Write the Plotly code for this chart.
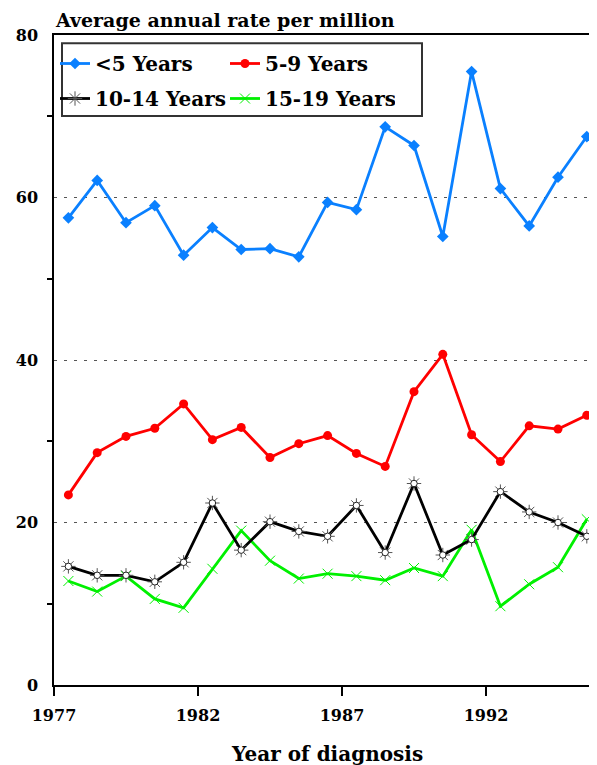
import plotly.graph_objects as go

years = list(range(1977, 1996))
under5 = [57.5, 62.1, 56.9, 59.0, 52.9, 56.3, 53.6, 53.7, 52.7, 59.4,
          58.5, 68.7, 66.4, 55.2, 75.5, 61.1, 56.5, 62.5, 67.5]
age5_9 = [23.4, 28.6, 30.6, 31.6, 34.6, 30.2, 31.7, 28.0, 29.7, 30.7,
          28.5, 26.9, 36.1, 40.7, 30.8, 27.5, 31.9, 31.5, 33.2]
age10_14 = [14.6, 13.5, 13.5, 12.7, 15.1, 22.4, 16.6, 20.1, 18.9, 18.3,
            22.1, 16.3, 24.8, 16.0, 17.9, 23.8, 21.3, 20.0, 18.3]
age15_19 = [12.8, 11.5, 13.4, 10.6, 9.5, 14.3, 19.0, 15.3, 13.1, 13.7,
            13.4, 12.9, 14.4, 13.4, 19.1, 9.7, 12.4, 14.5, 20.4]

x_tick_pos = [1976.5, 1981.5, 1986.5, 1991.5]
x_tick_text = ["1977", "1982", "1987", "1992"]
y_major = [0, 20, 40, 60, 80]
y_minor = [10, 30, 50, 70]

FONT = "DejaVu Serif, Liberation Serif, serif"

# the page body has an 8px margin, so the figure is laid out 8px smaller
W, H = 589, 757
ML, MT, MB = 46, 27, 80
PW, PH = W - ML, H - MT - MB  # 543 x 650


def px_x(page_x):
    return (page_x - 8 - ML) / PW


def px_y(page_y):
    return (MT + PH - (page_y - 8)) / PH


BLUE = "#0A80FF"
RED = "#FF0000"
GREEN = "#00F000"

fig = go.Figure()
fig.add_trace(go.Scatter(
    x=years, y=under5, name="<5 Years", mode="lines+markers",
    line=dict(color=BLUE, width=2.8),
    marker=dict(symbol="diamond", size=9, color=BLUE),
    legend="legend", legendrank=1))
fig.add_trace(go.Scatter(
    x=years, y=age5_9, name="5-9 Years", mode="lines+markers",
    line=dict(color=RED, width=2.8),
    marker=dict(symbol="circle", size=9, color=RED),
    legend="legend", legendrank=2))
fig.add_trace(go.Scatter(
    x=years, y=age15_19, name="15-19 Years", mode="lines+markers",
    line=dict(color=GREEN, width=2.8),
    marker=dict(symbol="x-thin-open", size=10, color=GREEN,
                line=dict(color=GREEN, width=1)),
    legend="legend2", legendrank=4))
fig.add_trace(go.Scatter(
    x=years, y=age10_14, name="10-14 Years", mode="lines+markers",
    line=dict(color="#000000", width=2.8),
    marker=dict(symbol="asterisk-open", size=12, color="#555555",
                line=dict(color="#555555", width=1)),
    legend="legend2", legendrank=3))
fig.add_trace(go.Scatter(
    x=years, y=age10_14, name="10-14 Years", mode="markers", showlegend=False,
    marker=dict(symbol="circle", size=6.5, color="white",
                line=dict(color="#222222", width=1)),
    hoverinfo="skip"))

legend_common = dict(
    orientation="h", xanchor="left", yanchor="middle",
    bgcolor="rgba(0,0,0,0)", borderwidth=0,
    font=dict(family=FONT, size=20, color="black", weight="bold"),
    entrywidth=125, entrywidthmode="pixels", itemwidth=30,
    traceorder="normal",
)

fig.update_layout(
    width=W, height=H,
    margin=dict(l=ML, r=0, t=MT, b=MB),
    paper_bgcolor="white", plot_bgcolor="white",
    showlegend=True,
    legend=dict(x=px_x(55), y=px_y(63.5), **legend_common),
    legend2=dict(x=px_x(55), y=px_y(98.5), **legend_common),
    xaxis=dict(
        range=[1976.5, 1976.5 + PW / 28.8],
        tickmode="array", tickvals=x_tick_pos, ticktext=x_tick_text,
        ticks="outside", ticklen=9, tickwidth=1.5, tickcolor="black",
        showline=True, linewidth=1.5, linecolor="black", mirror=True,
        showgrid=False, zeroline=False,
        tickfont=dict(family=FONT, size=16, color="black", weight="bold"),
        ticklabelstandoff=6,
    ),
    yaxis=dict(
        range=[0, 80],
        tickmode="array", tickvals=y_major, ticktext=[str(v) for v in y_major],
        ticks="", showline=True, linewidth=1.5, linecolor="black",
        showgrid=True, gridcolor="#555555", gridwidth=1, griddash="3px,7px",
        zeroline=False,
        tickfont=dict(family=FONT, size=16, color="black", weight="bold"),
        ticklabelstandoff=11,
        minor=dict(tickmode="array", tickvals=y_minor, ticks="outside",
                   ticklen=5, tickwidth=1.5, tickcolor="black", showgrid=False),
    ),
    shapes=[dict(
        type="rect", xref="paper", yref="paper",
        x0=px_x(62), x1=px_x(422), y0=px_y(116), y1=px_y(43.3),
        line=dict(color="#333333", width=2), fillcolor="white", layer="below",
    )],
    annotations=[
        dict(text="Average annual rate per million", xref="paper", yref="paper",
             x=px_x(53.3), y=px_y(20), xanchor="left", yanchor="middle",
             showarrow=False,
             font=dict(family=FONT, size=19, color="black", weight="bold")),
        dict(text="Year of diagnosis", xref="paper", yref="paper",
             x=px_x(326.5), y=px_y(754), xanchor="center", yanchor="middle",
             showarrow=False,
             font=dict(family=FONT, size=20, color="black", weight="bold")),
    ],
)

fig.write_html("out.html")
